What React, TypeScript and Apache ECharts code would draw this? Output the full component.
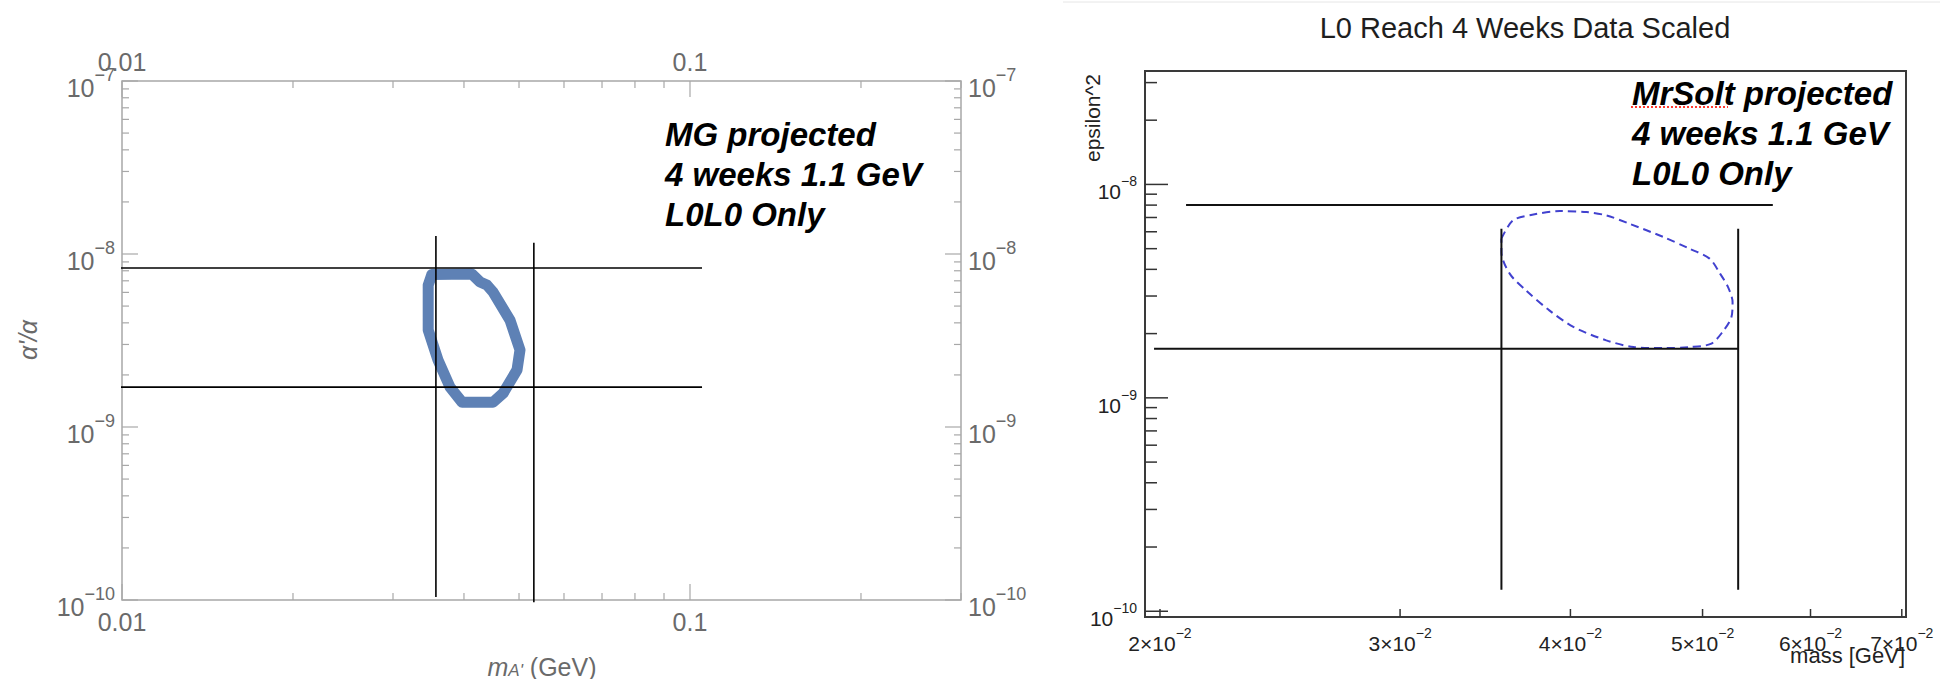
import React, { useEffect, useRef } from 'react';
import * as echarts from 'echarts';

const FONT = '"Liberation Sans", Arial, Helvetica, sans-serif';

// ---------------- Left panel (MG projected) ----------------
const leftMassRange = [0.01, 0.3];
const leftEpsRange = [1e-10, 1e-7];
const leftMassTicks = [0.01, 0.1, 0.02, 0.03, 0.04, 0.05, 0.06, 0.07, 0.08, 0.09, 0.2, 0.3];
const leftMassTickMajor = [1, 1, 0, 0, 0, 0, 0, 0, 0, 0, 0, 0];
const leftMassTickLabels = ['0.01', '0.1', '', '', '', '', '', '', '', '', '', ''];
const leftEpsDecades = [1e-10, 1e-9, 1e-8, 1e-7];
const leftEpsDecadeLabels = ['{b|10}{s|−10}', '{b|10}{s|−9}', '{b|10}{s|−8}', '{b|10}{s|−7}'];
const minorMultipliers = [2, 3, 4, 5, 6, 7, 8, 9];

const leftContourMass = [0.0351, 0.0413, 0.0427, 0.0439, 0.045, 0.0482, 0.0502, 0.0496, 0.0469, 0.045, 0.0397, 0.0378, 0.036, 0.0346, 0.0346, 0.0351];
const leftContourEps = [7.6e-9, 7.66e-9, 6.89e-9, 6.62e-9, 6.03e-9, 4.15e-9, 2.79e-9, 2.14e-9, 1.57e-9, 1.39e-9, 1.39e-9, 1.7e-9, 2.44e-9, 3.64e-9, 6.6e-9, 7.6e-9];

const leftCutMass = [0.0357, 0.0531];
const leftCutMassLow = [1.04e-10, 9.7e-11];
const leftCutMassHigh = [1.27e-8, 1.16e-8];
const leftCutEps = [8.3e-9, 1.7e-9];
const leftCutEpsFrom = [0.00976, 0.00976];
const leftCutEpsTo = [0.105, 0.105];

// ---------------- Right panel (MrSolt projected) ----------------
const rightMassRange = [0.0195, 0.0705];
const rightEpsRange = [9.4e-11, 3.4e-8];
const rightMassTicks = [0.02, 0.03, 0.04, 0.05, 0.06, 0.07];
const rightMassTickLabels = ['{b|2×10}{s|−2}', '{b|3×10}{s|−2}', '{b|4×10}{s|−2}', '{b|5×10}{s|−2}', '{b|6×10}{s|−2}', '{b|7×10}{s|−2}'];
const rightEpsDecades = [1e-10, 1e-9, 1e-8];
const rightEpsDecadeLabels = ['{b|10}{s|−10}', '{b|10}{s|−9}', '{b|10}{s|−8}'];
const rightEpsExtraMinor = [2e-8, 3e-8];

const rightContourMass = [0.0356, 0.0363, 0.0375, 0.0393, 0.0411, 0.0425, 0.0442, 0.0468, 0.0489, 0.0506, 0.0515, 0.0522, 0.0526, 0.0525, 0.0517, 0.0507, 0.0489, 0.0468, 0.0445, 0.0425, 0.0402, 0.0386, 0.0371, 0.0361, 0.0356, 0.0356];
const rightContourEps = [5.57e-9, 6.78e-9, 7.21e-9, 7.5e-9, 7.42e-9, 7.16e-9, 6.54e-9, 5.67e-9, 5.0e-9, 4.49e-9, 3.82e-9, 3.3e-9, 2.81e-9, 2.39e-9, 2.03e-9, 1.79e-9, 1.73e-9, 1.71e-9, 1.73e-9, 1.86e-9, 2.15e-9, 2.57e-9, 3.19e-9, 3.82e-9, 4.82e-9, 5.57e-9];

const rightCutMass = [0.0356, 0.0531];
const rightCutMassLow = [1.26e-10, 1.26e-10];
const rightCutMassHigh = [6.2e-9, 6.2e-9];
const rightCutEps = [8.0e-9, 1.7e-9];
const rightCutEpsFrom = [0.0209, 0.0198];
const rightCutEpsTo = [0.0563, 0.0531];

// ---------------- helpers ----------------
type Side = 'low' | 'high';
type TickCfg = {
  dir: 'x' | 'y';
  grid: number;
  ref: number;
  values: number[];
  major: number[];
  labels: string[];
  majorLen: number;
  minorLen: number;
  sides: Side[];
  stroke: string;
  lineWidth: number;
  labelSides: { side: Side; offset: number; shift: number }[];
  rich: any;
  fill: string;
  fontSize: number;
};

function tickSeries(cfg: TickCfg) {
  return {
    type: 'custom',
    xAxisIndex: cfg.grid,
    yAxisIndex: cfg.grid,
    silent: true,
    clip: false,
    z: 5,
    encode: { x: 0, y: 1 },
    data: cfg.values.map((v, i) => (cfg.dir === 'x' ? [v, cfg.ref, cfg.major[i], i] : [cfg.ref, v, cfg.major[i], i])),
    renderItem: (params: any, api: any) => {
      const cs = params.coordSys;
      const i = api.value(3);
      const isMajor = api.value(2) === 1;
      const len = isMajor ? cfg.majorLen : cfg.minorLen;
      const pt = api.coord([api.value(0), api.value(1)]);
      const children: any[] = [];
      const lineStyle = { stroke: cfg.stroke, lineWidth: cfg.lineWidth };
      const left = cs.x, right = cs.x + cs.width, top = cs.y, bottom = cs.y + cs.height;
      cfg.sides.forEach((s) => {
        if (cfg.dir === 'x') {
          const px = pt[0];
          if (s === 'low') children.push({ type: 'line', shape: { x1: px, y1: bottom, x2: px, y2: bottom - len }, style: lineStyle });
          else children.push({ type: 'line', shape: { x1: px, y1: top, x2: px, y2: top + len }, style: lineStyle });
        } else {
          const py = pt[1];
          if (s === 'low') children.push({ type: 'line', shape: { x1: left, y1: py, x2: left + len, y2: py }, style: lineStyle });
          else children.push({ type: 'line', shape: { x1: right, y1: py, x2: right - len, y2: py }, style: lineStyle });
        }
      });
      const label = cfg.labels[i];
      if (label) {
        cfg.labelSides.forEach((ls) => {
          let x = 0, y = 0, align = 'center';
          if (cfg.dir === 'x') {
            x = pt[0];
            y = ls.side === 'low' ? bottom + ls.offset : top - ls.offset;
            y += ls.shift;
          } else {
            y = pt[1] + ls.shift;
            if (ls.side === 'low') { x = left - ls.offset; align = 'right'; }
            else { x = right + ls.offset; align = 'left'; }
          }
          children.push({
            type: 'text',
            x,
            y,
            style: {
              text: label,
              rich: cfg.rich,
              fill: cfg.fill,
              fontSize: cfg.fontSize,
              fontFamily: FONT,
              align,
              verticalAlign: 'middle',
            },
          });
        });
      }
      return { type: 'group', children };
    },
  };
}

function segment(grid: number, a: number[], b: number[], color: string, width: number) {
  return {
    type: 'line',
    xAxisIndex: grid,
    yAxisIndex: grid,
    data: [a, b],
    symbol: 'none',
    clip: false,
    silent: true,
    z: 4,
    lineStyle: { color, width },
  };
}

const leftGray = '#6a6a6a';
const leftTickColor = '#a8a8a8';
const rootDark = '#222222';

const leftRich = {
  b: { fontSize: 25, lineHeight: 34, fontFamily: FONT, fill: leftGray, verticalAlign: 'bottom' },
  s: { fontSize: 18, lineHeight: 18, fontFamily: FONT, fill: leftGray, verticalAlign: 'top' },
};
const rightRich = {
  b: { fontSize: 21, lineHeight: 28, fontFamily: FONT, fill: rootDark, verticalAlign: 'bottom' },
  s: { fontSize: 14, lineHeight: 14, fontFamily: FONT, fill: rootDark, verticalAlign: 'top' },
};

function buildOption() {
  const leftEpsTickVals: number[] = [];
  const leftEpsTickMajor: number[] = [];
  const leftEpsTickLabels: string[] = [];
  leftEpsDecades.forEach((d, i) => {
    leftEpsTickVals.push(d); leftEpsTickMajor.push(1); leftEpsTickLabels.push(leftEpsDecadeLabels[i]);
    if (i < leftEpsDecades.length - 1) {
      minorMultipliers.forEach((m) => { leftEpsTickVals.push(m * d); leftEpsTickMajor.push(0); leftEpsTickLabels.push(''); });
    }
  });

  const rightEpsTickVals: number[] = [];
  const rightEpsTickMajor: number[] = [];
  const rightEpsTickLabels: string[] = [];
  rightEpsDecades.forEach((d, i) => {
    rightEpsTickVals.push(d); rightEpsTickMajor.push(1); rightEpsTickLabels.push(rightEpsDecadeLabels[i]);
    if (i < rightEpsDecades.length - 1) {
      minorMultipliers.forEach((m) => { rightEpsTickVals.push(m * d); rightEpsTickMajor.push(0); rightEpsTickLabels.push(''); });
    }
  });
  rightEpsExtraMinor.forEach((v) => { rightEpsTickVals.push(v); rightEpsTickMajor.push(0); rightEpsTickLabels.push(''); });

  const series: any[] = [];

  // left contour
  series.push({
    type: 'line',
    xAxisIndex: 0,
    yAxisIndex: 0,
    data: leftContourMass.map((m, i) => [m, leftContourEps[i]]),
    symbol: 'none',
    silent: true,
    z: 3,
    lineStyle: { color: '#5e81b5', width: 11, join: 'round', cap: 'round' },
  });
  leftCutMass.forEach((m, i) => series.push(segment(0, [m, leftCutMassLow[i]], [m, leftCutMassHigh[i]], '#000', 1.6)));
  leftCutEps.forEach((e, i) => series.push(segment(0, [leftCutEpsFrom[i], e], [leftCutEpsTo[i], e], '#000', 1.6)));

  // right contour
  series.push({
    type: 'line',
    xAxisIndex: 1,
    yAxisIndex: 1,
    data: rightContourMass.map((m, i) => [m, rightContourEps[i]]),
    symbol: 'none',
    smooth: 0.3,
    silent: true,
    z: 3,
    lineStyle: { color: '#4141cf', width: 2, type: [8, 5] },
  });
  rightCutMass.forEach((m, i) => series.push(segment(1, [m, rightCutMassLow[i]], [m, rightCutMassHigh[i]], '#111', 2)));
  rightCutEps.forEach((e, i) => series.push(segment(1, [rightCutEpsFrom[i], e], [rightCutEpsTo[i], e], '#111', 2)));

  // ticks
  series.push(tickSeries({
    dir: 'x', grid: 0, ref: leftEpsRange[0], values: leftMassTicks, major: leftMassTickMajor, labels: leftMassTickLabels,
    majorLen: 16, minorLen: 7, sides: ['low', 'high'], stroke: leftTickColor, lineWidth: 1.2,
    labelSides: [{ side: 'low', offset: 22, shift: 0 }, { side: 'high', offset: 19, shift: 0 }],
    rich: leftRich, fill: leftGray, fontSize: 25,
  }));
  series.push(tickSeries({
    dir: 'y', grid: 0, ref: leftMassRange[0], values: leftEpsTickVals, major: leftEpsTickMajor, labels: leftEpsTickLabels,
    majorLen: 16, minorLen: 7, sides: ['low', 'high'], stroke: leftTickColor, lineWidth: 1.2,
    labelSides: [{ side: 'low', offset: 7, shift: 2 }, { side: 'high', offset: 7, shift: 2 }],
    rich: leftRich, fill: leftGray, fontSize: 25,
  }));
  series.push(tickSeries({
    dir: 'x', grid: 1, ref: rightEpsRange[0], values: rightMassTicks, major: rightMassTicks.map(() => 0), labels: rightMassTickLabels,
    majorLen: 8, minorLen: 8, sides: ['low'], stroke: '#333', lineWidth: 1.5,
    labelSides: [{ side: 'low', offset: 23, shift: 0 }],
    rich: rightRich, fill: rootDark, fontSize: 21,
  }));
  series.push(tickSeries({
    dir: 'y', grid: 1, ref: rightMassRange[0], values: rightEpsTickVals, major: rightEpsTickMajor, labels: rightEpsTickLabels,
    majorLen: 23, minorLen: 12, sides: ['low'], stroke: '#333', lineWidth: 1.5,
    labelSides: [{ side: 'low', offset: 8, shift: 4 }],
    rich: rightRich, fill: rootDark, fontSize: 21,
  }));

  const annoStyle = (text: string) => ({
    text,
    fill: '#000',
    fontSize: 33,
    fontWeight: 'bold',
    fontStyle: 'italic',
    fontFamily: FONT,
    align: 'left',
    verticalAlign: 'middle',
  });

  const graphic: any[] = [
    // light separator at very top of right screenshot
    { type: 'line', shape: { x1: 1063, y1: 2, x2: 1940, y2: 2 }, style: { stroke: '#e6e6e6', lineWidth: 1 } },
    // left axis titles
    {
      type: 'text', x: 28, y: 340, rotation: Math.PI / 2,
      style: { text: "α'/α", fill: leftGray, fontSize: 25, fontStyle: 'italic', fontFamily: FONT, align: 'center', verticalAlign: 'middle' },
    },
    {
      type: 'text', x: 542, y: 664,
      style: {
        text: "{m|m}{a|A'}{n| (GeV)}",
        align: 'center', verticalAlign: 'middle', fill: leftGray, fontFamily: FONT,
        rich: {
          m: { fontSize: 25, lineHeight: 30, fontStyle: 'italic', fill: leftGray, fontFamily: FONT, verticalAlign: 'bottom' },
          a: { fontSize: 17, lineHeight: 20, fontStyle: 'italic', fill: leftGray, fontFamily: FONT, verticalAlign: 'bottom' },
          n: { fontSize: 25, lineHeight: 30, fill: leftGray, fontFamily: FONT, verticalAlign: 'bottom' },
        },
      },
    },
    // left annotations
    { type: 'text', x: 665, y: 134, style: annoStyle('MG projected') },
    { type: 'text', x: 665, y: 174, style: annoStyle('4 weeks 1.1 GeV') },
    { type: 'text', x: 665, y: 214, style: annoStyle('L0L0 Only') },
    // right title
    {
      type: 'text', x: 1525, y: 28,
      style: { text: 'L0 Reach 4 Weeks Data Scaled', fill: '#1e1e1e', fontSize: 29, fontFamily: FONT, align: 'center', verticalAlign: 'middle' },
    },
    // right axis titles
    {
      type: 'text', x: 1092, y: 118, rotation: Math.PI / 2,
      style: { text: 'epsilon^2', fill: rootDark, fontSize: 21, fontFamily: FONT, align: 'center', verticalAlign: 'middle' },
    },
    {
      type: 'text', x: 1905, y: 655,
      style: { text: 'mass [GeV]', fill: rootDark, fontSize: 22, fontFamily: FONT, align: 'right', verticalAlign: 'middle' },
    },
    // right annotations
    { type: 'text', x: 1632, y: 93, style: annoStyle('MrSolt projected') },
    { type: 'text', x: 1632, y: 133, style: annoStyle('4 weeks 1.1 GeV') },
    { type: 'text', x: 1632, y: 173, style: annoStyle('L0L0 Only') },
    // spell-check underline
    { type: 'line', shape: { x1: 1631, y1: 107, x2: 1728, y2: 107 }, style: { stroke: '#ff3b30', lineWidth: 2, lineDash: [2, 2] } },
  ];

  return {
    animation: false,
    backgroundColor: '#ffffff',
    grid: [
      { left: 122, top: 81, width: 839, height: 519, show: true, borderColor: '#a8a8a8', borderWidth: 1.5, backgroundColor: 'transparent' },
      { left: 1145, top: 71, width: 761, height: 546, show: true, borderColor: '#3a3a3a', borderWidth: 2, backgroundColor: 'transparent' },
    ],
    xAxis: [
      { type: 'log', gridIndex: 0, min: leftMassRange[0], max: leftMassRange[1], show: false },
      { type: 'log', gridIndex: 1, min: rightMassRange[0], max: rightMassRange[1], show: false },
    ],
    yAxis: [
      { type: 'log', gridIndex: 0, min: leftEpsRange[0], max: leftEpsRange[1], show: false },
      { type: 'log', gridIndex: 1, min: rightEpsRange[0], max: rightEpsRange[1], show: false },
    ],
    series,
    graphic,
  };
}

export default function App() {
  const ref = useRef<HTMLDivElement>(null);
  useEffect(() => {
    if (!ref.current) return;
    const chart = echarts.init(ref.current, null, { renderer: 'svg', width: 1940, height: 679 });
    chart.setOption(buildOption() as any);
    return () => chart.dispose();
  }, []);
  return (
    <div
      ref={ref}
      style={{ position: 'absolute', left: 0, top: 0, width: 1940, height: 679, background: '#fff' }}
    />
  );
}
